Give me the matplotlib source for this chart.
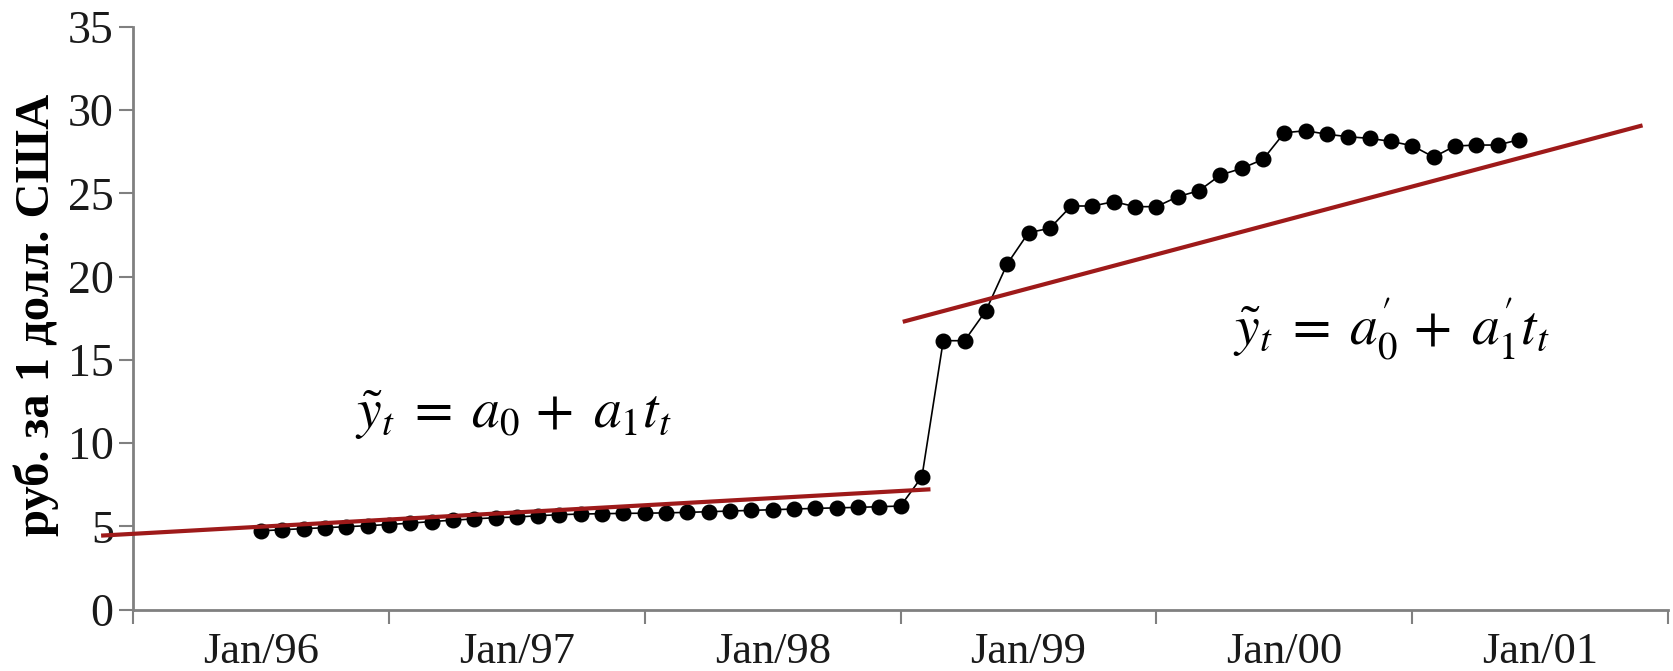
import numpy as np
import matplotlib.pyplot as plt

plt.rcParams['font.family'] = ['Liberation Serif', 'DejaVu Serif']
plt.rcParams['mathtext.fontset'] = 'stix'

# Monthly RUB/USD rate, Jan 1996 - Dec 2000 (month index 0 = Jan/96)
rate_1996 = [4.73, 4.80, 4.86, 4.92, 4.98, 5.04, 5.11, 5.19, 5.29, 5.37, 5.45, 5.52]
rate_1997 = [5.56, 5.64, 5.70, 5.74, 5.76, 5.78, 5.79, 5.81, 5.84, 5.88, 5.92, 5.96]
rate_1998 = [6.00, 6.04, 6.08, 6.11, 6.14, 6.18, 6.22, 7.98, 16.15, 16.15, 17.95, 20.76]
rate_1999 = [22.64, 22.90, 24.24, 24.24, 24.50, 24.20, 24.20, 24.80, 25.16, 26.10, 26.50, 27.04]
rate_2000 = [28.64, 28.76, 28.55, 28.40, 28.30, 28.12, 27.86, 27.18, 27.84, 27.90, 27.90, 28.22]
rate = rate_1996 + rate_1997 + rate_1998 + rate_1999 + rate_2000
months = np.arange(len(rate))

year_pos = [0, 12, 24, 36, 48, 60]
year_labels = ['Jan/96', 'Jan/97', 'Jan/98', 'Jan/99', 'Jan/00', 'Jan/01']

# linear trends y = a0 + a1*t before and after the August 1998 crisis
trend_before = (4.98, 0.0715)
trend_before_span = (-7.5, 31.4)
trend_after = (7.05, 0.340)
trend_after_span = (30.1, 64.8)

axis_grey = '#808080'
trend_red = '#9e1a1a'

fig = plt.figure(figsize=(16.74, 6.71), dpi=100)
ax = fig.add_axes([0.0795, 0.0915, 0.917, 0.8685])

ax.plot(months, rate, color='black', lw=1.2, marker='o', markersize=10.5,
        markerfacecolor='black', markeredgecolor='black', zorder=3)

for (a0, a1), span in [(trend_before, trend_before_span), (trend_after, trend_after_span)]:
    t = np.array(span)
    ax.plot(t, a0 + a1 * t, color=trend_red, lw=3, solid_capstyle='butt',
            zorder=4, clip_on=False)

ax.text(4.4, 11.7, r'$\tilde{y}_t\;=\;a_0\,+\;a_1 t_t$', fontsize=40,
        ha='left', va='center')
ax.text(45.6, 16.9, r'$\tilde{y}_t\;=\;a_0^{\prime}\,+\;a_1^{\prime} t_t$', fontsize=40,
        ha='left', va='center')

ax.set_xlim(-6, 66)
ax.set_ylim(0, 35)
ax.set_yticks(range(0, 36, 5))
ax.set_xticks(year_pos, year_labels)
ax.set_xticks(np.arange(-6, 67, 12), minor=True)

ax.tick_params(axis='x', which='major', length=0, pad=16, labelsize=32, labelcolor='#1a1a1a')
ax.tick_params(axis='x', which='minor', length=10, width=1.5, color=axis_grey)
ax.tick_params(axis='y', length=10, width=1.5, color=axis_grey, pad=4,
               labelsize=33, labelcolor='#1a1a1a')

for side in ['top', 'right']:
    ax.spines[side].set_visible(False)
for side in ['left', 'bottom']:
    ax.spines[side].set_color(axis_grey)
    ax.spines[side].set_linewidth(2)

fig.text(36 / 1674, 1 - 315 / 671, 'руб. за 1 долл. США', rotation=90,
         fontsize=35, fontweight='bold', ha='center', va='center')

fig.savefig('out.png', dpi=100)
